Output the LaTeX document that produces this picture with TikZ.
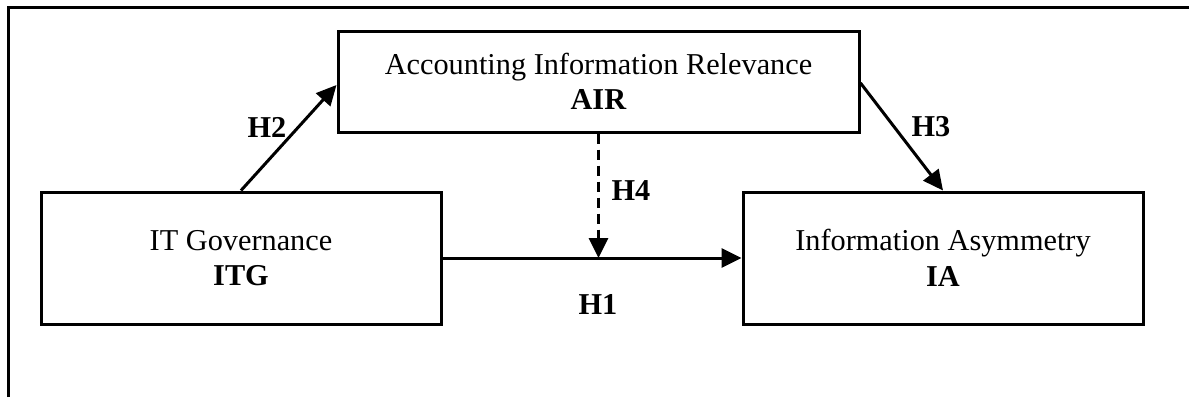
\documentclass[tikz,border=0pt]{standalone}
\usepackage{fontspec}
\setmainfont{Liberation Serif}
\usetikzlibrary{arrows.meta,calc}
\begin{document}
\begin{tikzpicture}[x=1pt,y=-1pt,
  line width=3pt,
  every node/.style={font=\fontsize{30.3}{35.5}\selectfont},
  varbox/.style={draw, line width=3pt, rectangle, inner sep=0pt, align=center},
  hyp/.style={font=\fontsize{30.3}{35.5}\selectfont\bfseries, inner sep=0pt},
  link/.style={-{Triangle[length=20pt,width=19pt]}, line width=3pt},
  modlink/.style={link, dash pattern=on 10pt off 6pt}
]
\useasboundingbox (0,0) rectangle (1189,397);

% open frame (top and left edges)
\coordinate (fbl) at (8,397);
\coordinate (ftl) at (8,7);
\coordinate (ftr) at (1189,7);
\draw[line width=3pt] (fbl) -- (ftl) -- (ftr);

% constructs
\node[varbox, minimum width=521pt, minimum height=101pt] (air) at (598.5,81.5)
  {Accounting Information Relevance\\\textbf{AIR}};
\node[varbox, minimum width=400pt, minimum height=132pt] (itg) at (241,258)
  {IT Governance\\\textbf{ITG}};
\node[varbox, minimum width=400pt, minimum height=132pt] (ia) at (943,258)
  {Information Asymmetry\\\textbf{IA}};

% paths
\coordinate (mid) at (air.south |- itg.east);
\draw[link] (itg.north) -- ($(air.west)+(0,3.5)$);
\draw[link] ($(air.east)+(0,1.5)$) -- (ia.north);
\draw[link] (itg.east) -- (ia.west);
\draw[modlink] (air.south) -- (mid);

% hypothesis labels
\node[hyp] (h2) at (267,127) {H2};
\node[hyp] (h3) at (931,127) {H3};
\node[hyp] (h4) at (631,191) {H4};
\node[hyp] (h1) at (598,304) {H1};
\end{tikzpicture}
\end{document}
